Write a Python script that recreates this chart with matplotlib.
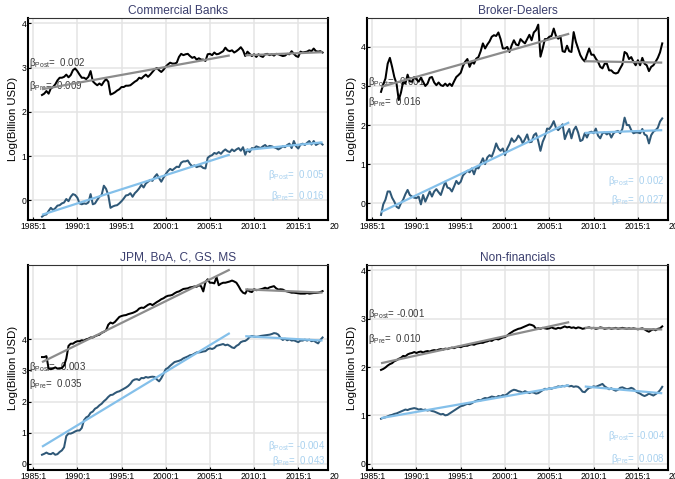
import numpy as np
import matplotlib
matplotlib.use("Agg")
import matplotlib.pyplot as plt
from matplotlib.transforms import Bbox

plt.rcParams["font.family"] = ["Liberation Sans", "DejaVu Sans"]
plt.rcParams["mathtext.fontset"] = "custom"
plt.rcParams["mathtext.rm"] = "Liberation Sans"
plt.rcParams["mathtext.it"] = "Liberation Sans:italic"
plt.rcParams["mathtext.bf"] = "Liberation Sans:bold"

# quarterly observations, 1986:1 .. 2017:4
quarters = 1986 + 0.25 * np.arange(128)

titles = ["Commercial Banks", "Broker-Dealers", "JPM, BoA, C, GS, MS", "Non-financials"]
tick_years = [1985, 1990, 1995, 2000, 2005, 2010, 2015]
tick_labels = [f"{y}:1" for y in tick_years]
ylabel = "Log(Billion USD)"

cb_upper = [
    2.38, 2.41, 2.47, 2.41, 2.53, 2.56, 2.62, 2.71, 2.77, 2.77, 2.79, 2.84,
    2.78, 2.83, 2.94, 2.98, 2.92, 2.84, 2.77, 2.77, 2.74, 2.79, 2.92, 2.69,
    2.64, 2.60, 2.64, 2.60, 2.68, 2.74, 2.68, 2.39, 2.41, 2.44, 2.48, 2.51,
    2.56, 2.56, 2.59, 2.59, 2.60, 2.64, 2.68, 2.71, 2.77, 2.75, 2.80, 2.84,
    2.79, 2.84, 2.90, 2.96, 2.99, 2.94, 2.90, 2.95, 3.02, 3.07, 3.11, 3.09,
    3.09, 3.11, 3.24, 3.31, 3.28, 3.30, 3.31, 3.26, 3.22, 3.24, 3.18, 3.21,
    3.18, 3.18, 3.15, 3.30, 3.31, 3.28, 3.34, 3.30, 3.31, 3.34, 3.37, 3.45,
    3.39, 3.37, 3.39, 3.34, 3.37, 3.41, 3.46, 3.39, 3.26, 3.36, 3.31, 3.26,
    3.30, 3.24, 3.30, 3.26, 3.24, 3.30, 3.31, 3.28, 3.30, 3.27, 3.31, 3.30,
    3.28, 3.26, 3.27, 3.31, 3.30, 3.37, 3.31, 3.26, 3.24, 3.36, 3.34, 3.35,
    3.36, 3.39, 3.37, 3.43, 3.37, 3.36, 3.37, 3.34,
]
cb_lower = [
    -0.37, -0.33, -0.32, -0.24, -0.17, -0.22, -0.18, -0.12, -0.11, -0.07, -0.05, 0.03,
    -0.02, 0.08, 0.14, 0.12, 0.06, -0.07, -0.09, -0.07, -0.08, -0.05, 0.14, -0.09,
    -0.07, 0.01, 0.08, 0.12, 0.33, 0.26, 0.12, -0.17, -0.14, -0.12, -0.11, -0.07,
    -0.02, 0.04, 0.11, 0.12, 0.16, 0.08, 0.16, 0.21, 0.27, 0.35, 0.29, 0.38,
    0.42, 0.46, 0.44, 0.53, 0.59, 0.50, 0.42, 0.51, 0.59, 0.66, 0.71, 0.68,
    0.72, 0.76, 0.75, 0.85, 0.88, 0.88, 0.90, 0.82, 0.77, 0.79, 0.75, 0.77,
    0.77, 0.73, 0.72, 0.96, 1.00, 1.02, 1.07, 1.05, 1.09, 1.05, 1.11, 1.15,
    1.11, 1.09, 1.15, 1.11, 1.15, 1.18, 1.12, 1.20, 1.03, 1.15, 1.09, 1.18,
    1.17, 1.22, 1.20, 1.18, 1.22, 1.25, 1.20, 1.23, 1.22, 1.20, 1.18, 1.15,
    1.18, 1.22, 1.20, 1.25, 1.28, 1.18, 1.34, 1.22, 1.17, 1.26, 1.28, 1.25,
    1.30, 1.34, 1.26, 1.34, 1.25, 1.28, 1.30, 1.26,
]
bd_upper = [
    2.85, 3.04, 3.19, 3.57, 3.72, 3.49, 3.23, 3.06, 2.64, 2.83, 3.11, 3.06,
    3.29, 3.12, 3.11, 3.23, 3.17, 3.11, 3.21, 3.11, 3.00, 3.06, 3.21, 3.23,
    3.09, 3.02, 3.09, 3.02, 3.00, 3.06, 3.00, 3.06, 3.00, 3.12, 3.23, 3.28,
    3.34, 3.51, 3.62, 3.69, 3.49, 3.62, 3.57, 3.70, 3.74, 3.89, 4.09, 3.96,
    4.06, 4.14, 4.26, 4.30, 4.28, 4.37, 4.20, 3.96, 3.96, 4.00, 3.87, 4.04,
    4.17, 4.06, 4.04, 4.20, 4.14, 4.09, 4.20, 4.31, 4.17, 4.37, 4.43, 4.57,
    3.75, 3.96, 4.20, 4.20, 4.26, 4.28, 4.47, 4.28, 4.21, 4.28, 3.89, 3.87,
    4.03, 3.89, 3.87, 4.38, 4.13, 3.96, 3.79, 3.69, 3.63, 3.80, 3.96, 3.80,
    3.80, 3.70, 3.62, 3.49, 3.45, 3.57, 3.57, 3.40, 3.40, 3.34, 3.32, 3.34,
    3.45, 3.55, 3.87, 3.83, 3.69, 3.74, 3.62, 3.53, 3.66, 3.53, 3.72, 3.57,
    3.53, 3.38, 3.49, 3.53, 3.62, 3.72, 3.86, 4.09,
]
bd_lower = [
    -0.30, -0.03, 0.09, 0.30, 0.30, 0.14, 0.04, -0.09, -0.13, 0.00, 0.09, 0.23,
    0.34, 0.21, 0.17, 0.14, 0.13, 0.17, -0.03, 0.21, 0.04, 0.17, 0.30, 0.17,
    0.30, 0.36, 0.28, 0.21, 0.38, 0.55, 0.40, 0.38, 0.30, 0.43, 0.57, 0.49,
    0.55, 0.71, 0.77, 0.83, 0.79, 0.89, 0.74, 0.91, 0.89, 1.02, 1.15, 1.00,
    1.17, 1.23, 1.19, 1.34, 1.53, 1.40, 1.34, 1.40, 1.23, 1.40, 1.51, 1.66,
    1.57, 1.62, 1.73, 1.66, 1.53, 1.64, 1.76, 1.56, 1.57, 1.74, 1.79, 1.59,
    1.34, 1.57, 1.70, 1.91, 1.90, 1.98, 2.10, 1.93, 1.87, 1.93, 2.02, 1.64,
    1.79, 1.90, 1.66, 1.87, 1.96, 1.81, 1.59, 1.62, 1.79, 1.68, 1.81, 1.83,
    1.79, 1.91, 1.73, 1.66, 1.79, 1.81, 1.76, 1.81, 1.68, 1.79, 1.83, 1.85,
    1.79, 1.90, 2.19, 2.00, 2.00, 1.87, 1.79, 1.81, 1.81, 1.79, 1.90, 1.76,
    1.73, 1.53, 1.74, 1.83, 1.87, 1.93, 2.09, 2.17,
]
big5_upper = [
    3.43, 3.43, 3.46, 3.06, 3.04, 3.06, 3.10, 3.06, 3.06, 3.08, 3.16, 3.38,
    3.79, 3.86, 3.86, 3.91, 3.94, 3.94, 3.97, 3.96, 4.00, 4.02, 4.06, 4.06,
    4.10, 4.13, 4.15, 4.21, 4.24, 4.29, 4.47, 4.54, 4.51, 4.56, 4.64, 4.72,
    4.75, 4.77, 4.78, 4.81, 4.83, 4.85, 4.88, 4.92, 4.99, 5.02, 5.01, 5.06,
    5.11, 5.14, 5.10, 5.15, 5.20, 5.24, 5.29, 5.32, 5.37, 5.40, 5.41, 5.43,
    5.48, 5.52, 5.54, 5.58, 5.62, 5.63, 5.64, 5.67, 5.68, 5.70, 5.69, 5.74,
    5.71, 5.54, 5.84, 5.93, 5.82, 5.82, 5.80, 6.00, 5.74, 5.79, 5.82, 5.82,
    5.84, 5.86, 5.89, 5.86, 5.82, 5.71, 5.58, 5.50, 5.47, 5.60, 5.54, 5.52,
    5.61, 5.58, 5.59, 5.61, 5.63, 5.66, 5.63, 5.67, 5.69, 5.71, 5.64, 5.60,
    5.61, 5.60, 5.56, 5.54, 5.52, 5.50, 5.50, 5.49, 5.48, 5.47, 5.47, 5.47,
    5.49, 5.47, 5.48, 5.49, 5.49, 5.50, 5.52, 5.55,
]
big5_lower = [
    0.29, 0.32, 0.36, 0.32, 0.31, 0.35, 0.29, 0.31, 0.38, 0.43, 0.53, 0.89,
    0.97, 0.97, 1.00, 1.04, 1.07, 1.07, 1.15, 1.40, 1.49, 1.53, 1.64, 1.68,
    1.77, 1.81, 1.88, 1.93, 2.01, 2.07, 2.15, 2.21, 2.22, 2.27, 2.31, 2.33,
    2.37, 2.41, 2.45, 2.50, 2.57, 2.67, 2.71, 2.72, 2.69, 2.76, 2.75, 2.79,
    2.77, 2.79, 2.80, 2.79, 2.71, 2.65, 2.75, 2.89, 3.04, 3.08, 3.15, 3.21,
    3.27, 3.29, 3.31, 3.34, 3.39, 3.42, 3.45, 3.49, 3.50, 3.54, 3.58, 3.58,
    3.59, 3.61, 3.62, 3.68, 3.71, 3.69, 3.72, 3.79, 3.81, 3.83, 3.85, 3.81,
    3.83, 3.79, 3.74, 3.72, 3.79, 3.83, 3.91, 3.94, 3.95, 4.00, 4.08, 4.11,
    4.09, 4.08, 4.09, 4.11, 4.12, 4.13, 4.14, 4.15, 4.17, 4.20, 4.19, 4.15,
    4.04, 3.98, 4.02, 3.97, 4.00, 3.96, 3.97, 3.94, 3.91, 3.96, 3.96, 3.99,
    3.96, 3.99, 3.94, 3.96, 3.91, 3.87, 3.98, 4.06,
]
nf_upper = [
    1.94, 1.96, 1.99, 2.03, 2.06, 2.08, 2.12, 2.14, 2.17, 2.19, 2.23, 2.22,
    2.26, 2.28, 2.29, 2.31, 2.29, 2.31, 2.32, 2.30, 2.32, 2.33, 2.32, 2.34,
    2.35, 2.34, 2.36, 2.37, 2.36, 2.38, 2.37, 2.39, 2.40, 2.39, 2.41, 2.42,
    2.41, 2.43, 2.44, 2.44, 2.46, 2.47, 2.46, 2.48, 2.49, 2.50, 2.50, 2.52,
    2.53, 2.55, 2.54, 2.57, 2.58, 2.57, 2.59, 2.61, 2.62, 2.65, 2.69, 2.72,
    2.75, 2.77, 2.79, 2.80, 2.82, 2.84, 2.86, 2.88, 2.87, 2.85, 2.79, 2.80,
    2.79, 2.81, 2.80, 2.79, 2.80, 2.82, 2.80, 2.79, 2.81, 2.80, 2.82, 2.84,
    2.82, 2.83, 2.81, 2.82, 2.80, 2.82, 2.81, 2.79, 2.80, 2.81, 2.82, 2.80,
    2.81, 2.79, 2.80, 2.82, 2.81, 2.79, 2.80, 2.81, 2.79, 2.80, 2.81, 2.79,
    2.80, 2.81, 2.80, 2.79, 2.80, 2.79, 2.80, 2.79, 2.78, 2.79, 2.80, 2.78,
    2.75, 2.73, 2.76, 2.78, 2.76, 2.79, 2.80, 2.84,
]
nf_lower = [
    0.93, 0.95, 0.96, 0.98, 1.00, 1.01, 1.03, 1.04, 1.06, 1.08, 1.10, 1.12,
    1.11, 1.13, 1.14, 1.15, 1.14, 1.12, 1.13, 1.11, 1.12, 1.10, 1.11, 1.09,
    1.08, 1.06, 1.04, 1.02, 1.03, 1.00, 1.01, 1.04, 1.07, 1.10, 1.13, 1.16,
    1.19, 1.20, 1.22, 1.24, 1.23, 1.25, 1.28, 1.30, 1.32, 1.31, 1.34, 1.36,
    1.35, 1.37, 1.39, 1.38, 1.37, 1.40, 1.39, 1.42, 1.41, 1.44, 1.48, 1.51,
    1.53, 1.52, 1.50, 1.49, 1.47, 1.50, 1.48, 1.46, 1.48, 1.47, 1.45, 1.46,
    1.49, 1.52, 1.55, 1.54, 1.56, 1.55, 1.57, 1.58, 1.60, 1.59, 1.61, 1.60,
    1.62, 1.60, 1.61, 1.59, 1.60, 1.59, 1.55, 1.49, 1.48, 1.53, 1.57, 1.58,
    1.60, 1.59, 1.61, 1.63, 1.65, 1.60, 1.57, 1.54, 1.56, 1.53, 1.51, 1.53,
    1.57, 1.58, 1.56, 1.54, 1.55, 1.57, 1.55, 1.50, 1.47, 1.45, 1.42, 1.40,
    1.42, 1.45, 1.43, 1.41, 1.44, 1.47, 1.52, 1.59,
]

# quarterly trend slopes (pre-crisis / post-crisis)
upper_beta_pre = [0.009, 0.016, 0.035, 0.010]
upper_beta_post = [0.002, -0.001, -0.003, -0.001]
lower_beta_pre = [0.016, 0.027, 0.043, 0.008]
lower_beta_post = [0.005, 0.002, -0.004, -0.004]

pre_window = (1986.0, 2007.25)
post_window = (2009.0, 2017.75)

uppers = [cb_upper, bd_upper, big5_upper, nf_upper]
lowers = [cb_lower, bd_lower, big5_lower, nf_lower]

ylims = [(-0.445, 4.12), (-0.43, 4.74), (-0.2, 6.39), (-0.13, 4.11)]
xlim = (1984.45, 2018.4)

W, H = 675, 479
boxes_px = [(28.3, 18, 328.3, 220), (367.3, 18, 668, 220),
            (28.3, 265, 328.3, 470), (367.3, 265, 668, 470)]

c_upper = "black"
c_lower = "#2f5877"
c_upper_fit = "#8c8c8c"
c_lower_fit = "#84c0ea"
c_upper_txt = "#3a3a3a"
c_lower_txt = "#a9d1ef"
c_title = "#3b3f6e"
c_grid = "#e4e4e4"

tick_fs = 6.2


def fitted_segment(x, y, window, slope):
    m = (x >= window[0] - 1e-9) & (x <= window[1] + 1e-9)
    q = (x[m] - x[0]) * 4.0
    a = np.mean(y[m] - slope * q)
    xs = x[m][[0, -1]]
    return xs, a + slope * q[[0, -1]]


def beta_label(name, b):
    return r"$\mathrm{\beta}_{\rm " + name + "}$= " + f"{b:6.3f}"


fig = plt.figure(figsize=(W / 100, H / 100), dpi=100)

for i in range(4):
    x0, y0, x1, y1 = boxes_px[i]
    ax = fig.add_axes([x0 / W, 1 - y1 / H, (x1 - x0) / W, (y1 - y0) / H])
    up = np.array(uppers[i])
    lo = np.array(lowers[i])

    ax.plot(quarters, up, color=c_upper, lw=1.45, zorder=3)
    ax.plot(quarters, lo, color=c_lower, lw=1.45, zorder=3)

    for y, bp, bq, col in [(up, upper_beta_pre[i], upper_beta_post[i], c_upper_fit),
                           (lo, lower_beta_pre[i], lower_beta_post[i], c_lower_fit)]:
        xs, ys = fitted_segment(quarters, y, pre_window, bp)
        ax.plot(xs, ys, color=col, lw=1.6, zorder=4, solid_capstyle="butt")
        xs, ys = fitted_segment(quarters, y, post_window, bq)
        ax.plot(xs, ys, color=col, lw=1.6, zorder=4, solid_capstyle="butt")

    ax.set_xlim(*xlim)
    ax.set_ylim(*ylims[i])
    ax.set_xticks(tick_years)
    ax.set_xticklabels(tick_labels)
    ax.set_yticks([0, 1, 2, 3, 4])
    ax.grid(True, color=c_grid, lw=1.1, zorder=0)
    ax.set_axisbelow(True)
    ax.tick_params(direction="in", length=2, width=0.8, pad=1.2,
                   labelsize=tick_fs, colors="black")
    for side in ["left", "bottom", "right"]:
        ax.spines[side].set_linewidth(1.5)
        ax.spines[side].set_color("black")
    ax.spines["top"].set_linewidth(0.8)
    ax.spines["top"].set_color("#333333")

    ax.set_title(titles[i], fontsize=8.6, color=c_title, pad=3)
    ax.set_ylabel(ylabel, fontsize=8.2, labelpad=3)

    x_left = xlim[0] + 0.08
    x_right = xlim[1] - 0.35
    ax.text(x_left, 3.1, beta_label("Post", upper_beta_post[i]), fontsize=7,
            color=c_upper_txt, ha="left", va="center", zorder=2)
    ax.text(x_left, 2.58, beta_label("Pre", upper_beta_pre[i]), fontsize=7,
            color=c_upper_txt, ha="left", va="center", zorder=2)
    ax.text(x_right, 0.58, beta_label("Post", lower_beta_post[i]), fontsize=7,
            color=c_lower_txt, ha="right", va="center", zorder=2)
    ax.text(x_right, 0.09, beta_label("Pre", lower_beta_pre[i]), fontsize=7,
            color=c_lower_txt, ha="right", va="center", zorder=2)

    # the next tick label sits past the right edge and is cut off by the panel gap
    t = ax.annotate("2020:1", xy=(2020, 0), xycoords=("data", "axes fraction"),
                    xytext=(0, -1.2), textcoords="offset points", ha="center",
                    va="top", fontsize=tick_fs, annotation_clip=False)
    t.set_clip_on(True)
    t.set_clip_box(Bbox.from_extents(0, 0, 339 if i % 2 == 0 else W, H))

fig.savefig("out.png", dpi=100)
